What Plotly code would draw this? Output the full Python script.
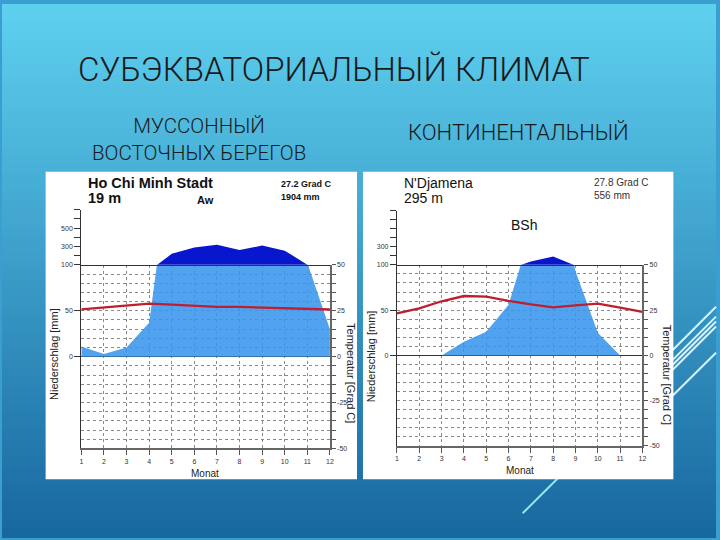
import plotly.graph_objects as go

# ---------------- data ----------------
months = [1, 2, 3, 4, 5, 6, 7, 8, 9, 10, 11, 12]
month_labels = [str(m) for m in months]

hcm_precip = [11, 3, 10, 37, 220, 290, 320, 263, 310, 255, 102, 30]
hcm_temp = [25.8, 26.7, 27.9, 28.9, 28.3, 27.5, 27.1, 27.1, 26.8, 26.7, 26.4, 25.7]

ndj_precip = [0, 0, 0, 15, 26, 56, 136, 193, 93, 25, 0, 0]
ndj_temp = [23.2, 26.0, 29.9, 32.8, 32.5, 30.1, 28.2, 26.5, 27.6, 28.6, 26.4, 24.0]

temp_ticks = list(range(-50, 55, 5))
temp_ticktext = [str(v) if v % 25 == 0 else "" for v in temp_ticks]
upper_ticks = [55, 60, 65, 70, 75, 80]
hcm_upper_text = ["", "300", "", "500", "", ""]
ndj_upper_text = ["", "300", "", "", "", ""]

W, H = 720, 540
def px(x):
    return x / W
def py(y):
    return 1 - y / H

LIGHT = "rgba(55,149,237,0.87)"
DARK = "rgb(8,22,205)"
RED = "rgb(190,30,45)"
AX = "#333333"
TF = dict(family="Liberation Sans, Arial, sans-serif", size=7, color="#333")

def expand(ms, p):
    xs, ps = [ms[0]], [p[0]]
    for i in range(1, len(p)):
        a, b = p[i - 1], p[i]
        if (a - 100) * (b - 100) < 0:
            xs.append(ms[i - 1] + (100 - a) / (b - a) * (ms[i] - ms[i - 1]))
            ps.append(100)
        xs.append(ms[i])
        ps.append(b)
    return xs, ps

fig = go.Figure()
layout = dict(width=W, height=H, margin=dict(l=0, r=0, t=0, b=0),
              paper_bgcolor="#3a9fd0", plot_bgcolor="rgba(0,0,0,0)",
              showlegend=False)

panels = [
    dict(precip=hcm_precip, temp=hcm_temp, x0=80.0, x1=330.7, y0=357.3, unit=1.86,
         upper_text=hcm_upper_text, ax=["", "2", "3", "4", "", "5"]),
    dict(precip=ndj_precip, temp=ndj_temp, x0=398.3, x1=645.8, y0=356.0, unit=1.834,
         upper_text=ndj_upper_text, ax=["6", "7", "8", "9", "10", "11"]),
]

for P in panels:
    xa, xb, xup, ylo, yt, yup = P["ax"]
    xname_lo = "x" + xa
    xname_up = "x" + xup
    ybot = P["y0"] + 50 * P["unit"]
    y50 = P["y0"] - 50 * P["unit"]
    ytop = P["y0"] - 80 * P["unit"]
    xdom = [px(P["x0"]), px(P["x1"])]
    lo_dom = [py(ybot), py(y50)]
    up_dom = [py(y50), py(ytop)]

    xs, ps = expand(months, P["precip"])
    y_light = [min(v, 100) / 2 for v in ps]
    y_dark = [50 + max(v - 100, 0) / 20 for v in ps]

    fig.add_trace(go.Scatter(x=xs, y=y_light, mode="lines", fill="tozeroy",
                             fillcolor=LIGHT, line=dict(width=0),
                             xaxis=xname_lo, yaxis="y" + ylo, hoverinfo="skip"))
    fig.add_trace(go.Scatter(x=xs, y=y_dark, mode="lines", fill="tozeroy",
                             fillcolor=DARK, line=dict(width=0),
                             xaxis=xname_up, yaxis="y" + yup, hoverinfo="skip"))
    fig.add_trace(go.Scatter(x=months, y=P["temp"], mode="lines",
                             line=dict(color=RED, width=2.3),
                             xaxis=xname_lo, yaxis="y" + yt, hoverinfo="skip"))

    def key(prefix, s):
        return prefix + "axis" + s

    layout[key("x", xa)] = dict(domain=xdom, anchor="y" + ylo, range=[1, 12],
                                tickvals=months, ticktext=month_labels,
                                ticks="outside", ticklen=5, tickcolor="#555",
                                showline=True, linecolor="#666", linewidth=1.5,
                                showgrid=True, gridcolor="#8a8a8a", griddash="dot",
                                gridwidth=1, zeroline=False, tickfont=TF)
    layout[key("x", xup)] = dict(domain=xdom, anchor="y" + yup, range=[1, 12],
                                 showticklabels=False, ticks="", showgrid=False,
                                 zeroline=False, showline=True, linecolor=AX,
                                 linewidth=1.3)
    layout[key("y", ylo)] = dict(domain=lo_dom, anchor=xname_lo, range=[-50, 50],
                                 tickvals=[0, 25, 50], ticktext=["0", "50", "100"],
                                 ticks="outside", ticklen=6, tickcolor=AX,
                                 showline=True, linecolor=AX, linewidth=1.3,
                                 showgrid=False, zeroline=True, zerolinecolor=AX,
                                 zerolinewidth=1.3, tickfont=TF)
    layout[key("y", yt)] = dict(overlaying="y" + ylo, anchor=xname_lo, side="right",
                                range=[-50, 50], tickvals=temp_ticks,
                                ticktext=temp_ticktext, ticks="outside", ticklen=4,
                                tickcolor="#555", showline=True, linecolor="#666",
                                linewidth=1.5, showgrid=True, gridcolor="#8a8a8a",
                                griddash="dot", gridwidth=1, zeroline=False,
                                tickfont=TF)
    layout[key("y", yup)] = dict(domain=up_dom, anchor=xname_up, range=[50, 80],
                                 tickvals=upper_ticks, ticktext=P["upper_text"],
                                 ticks="outside", ticklen=6, tickcolor=AX,
                                 showline=True, linecolor=AX, linewidth=1.3,
                                 showgrid=False, zeroline=False, tickfont=TF)

# ---------------- background shapes ----------------
shapes = []
top = (94, 208, 239)
bot = (24, 104, 160)
n = 60
for i in range(n):
    f = i / (n - 1)
    c = tuple(int(round(top[k] + (bot[k] - top[k]) * f)) for k in range(3))
    shapes.append(dict(type="rect", xref="paper", yref="paper", layer="below",
                       x0=0, x1=1, y0=py(i * H / n), y1=py((i + 1) * H / n + 1),
                       line=dict(width=0), fillcolor="rgb(%d,%d,%d)" % c))

deco = [((640, 387), (720, 306.7)), ((640, 397), (720, 316.7)),
        ((640, 402), (720, 321.7)), ((640, 407), (720, 326.7)),
        ((650, 423), (720, 353.3))]
for (a, b) in deco:
    shapes.append(dict(type="line", xref="paper", yref="paper", layer="below",
                       x0=px(a[0]), y0=py(a[1]), x1=px(b[0]), y1=py(b[1]),
                       line=dict(color="rgba(225,248,255,0.95)", width=2)))
shapes.append(dict(type="line", xref="paper", yref="paper", layer="below",
                   x0=px(525), y0=py(516), x1=px(575), y1=py(466),
                   line=dict(color="rgb(150,228,245)", width=2)))

for (x0, x1) in [(44, 358), (364, 677)]:
    shapes.append(dict(type="rect", xref="paper", yref="paper", layer="below",
                       x0=px(x0), x1=px(x1), y0=py(481.5), y1=py(170),
                       line=dict(width=0), fillcolor="white"))
layout["shapes"] = shapes

# ---------------- text ----------------
SANS = "Liberation Sans, Arial, sans-serif"
THIN = "Roboto, Liberation Sans, sans-serif"
ann = []
def A(text, x, y, size, family=SANS, color="#111", xanchor="left", angle=0,
      bold=False, weight=None):
    t = "<b>%s</b>" % text if bold else text
    f = dict(family=family, size=size, color=color)
    if weight is not None:
        f["weight"] = weight
    ann.append(dict(text=t, x=px(x), y=py(y), xref="paper", yref="paper",
                    xanchor=xanchor, yanchor="middle", showarrow=False,
                    textangle=angle, font=f))

A("СУБЭКВАТОРИАЛЬНЫЙ КЛИМАТ", 335, 66, 33, THIN, "#1a1a1a", "center", weight=300)
A("МУССОННЫЙ<br>ВОСТОЧНЫХ БЕРЕГОВ", 199, 137, 20.5, THIN, "#1a1a1a", "center", weight=300)
A("КОНТИНЕНТАЛЬНЫЙ", 521, 130, 22, THIN, "#1a1a1a", "center", weight=300)

A("Ho Chi Minh Stadt", 85, 181, 14.5, bold=True)
A("19 m", 85, 196.5, 14.5, bold=True)
A("Aw", 205, 198.5, 11, xanchor="center", bold=True)
A("27.2 Grad C", 279, 182.3, 9, bold=True)
A("1904 mm", 279, 196, 9, bold=True)

A("N'Djamena", 403, 181, 14)
A("295 m", 403, 196.5, 14)
A("27.8 Grad C", 595, 181, 10, color="#333")
A("556 mm", 595, 194.3, 10, color="#333")
A("BSh", 526, 224.3, 14, xanchor="center")

A("Niederschlag [mm]", 53, 355, 11, xanchor="center", angle=-90, color="#222")
A("Temperatur [Grad C]", 352, 374, 11, xanchor="center", angle=90, color="#222")
A("Monat", 205, 475.7, 10, xanchor="center", color="#222")
A("Niederschlag [mm]", 372, 357, 11, xanchor="center", angle=-90, color="#222")
A("Temperatur [Grad C]", 670, 376, 11, xanchor="center", angle=90, color="#222")
A("Monat", 522, 473, 10, xanchor="center", color="#222")
layout["annotations"] = ann

fig.update_layout(**layout)
fig.write_html("out.html")
